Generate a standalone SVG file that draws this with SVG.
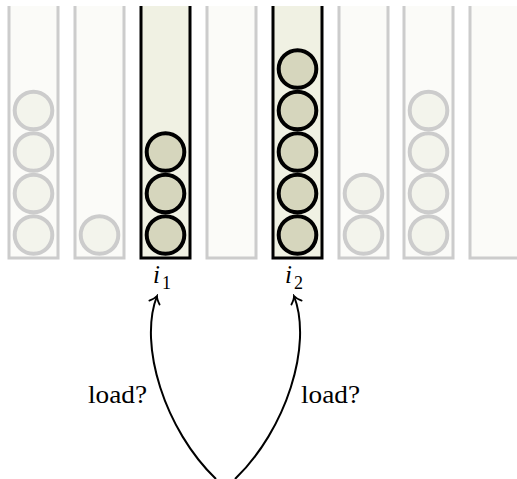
<svg xmlns="http://www.w3.org/2000/svg" width="517" height="479" viewBox="0 0 517 479">
<defs>
<style>
.bin{fill:#fbfbf8;stroke:#cccccc;stroke-width:3}
.binh{fill:#f0f1e3;stroke:#000;stroke-width:3}
.ball{fill:#f3f4ec;stroke:#cccccc;stroke-width:4}
.ballh{fill:#d6d6bd;stroke:#000;stroke-width:4}
.edge{fill:none;stroke:#000;stroke-width:2}
.lbl{font-family:"Liberation Serif",serif;font-size:25px;fill:#000}
.idx{font-family:"Liberation Serif",serif;font-style:italic;font-size:25px;fill:#000}
.sub{font-family:"Liberation Serif",serif;font-size:18px;fill:#000}
</style>
<marker id="arr" markerWidth="12" markerHeight="14" refX="10" refY="7" orient="auto" markerUnits="userSpaceOnUse">
<path d="M3,1.5 Q7,6 10,7 Q7,8 3,12.5" fill="none" stroke="#000" stroke-width="1.8" stroke-linecap="round"/>
</marker>
</defs>
<rect width="517" height="479" fill="#fff"/>
<g id="bin1">
<path class="bin" d="M9,6 V258 H58 V6"/>
<circle class="ball" cx="33.5" cy="235" r="18.8"/>
<circle class="ball" cx="33.5" cy="193.5" r="18.8"/>
<circle class="ball" cx="33.5" cy="152" r="18.8"/>
<circle class="ball" cx="33.5" cy="110.5" r="18.8"/>
</g>
<g id="bin2">
<path class="bin" d="M75,6 V258 H124 V6"/>
<circle class="ball" cx="99.5" cy="235" r="18.8"/>
</g>
<g id="bin3">
<path class="binh" d="M141,6 V258 H190 V6"/>
<circle class="ballh" cx="165.5" cy="235" r="18.8"/>
<circle class="ballh" cx="165.5" cy="193.5" r="18.8"/>
<circle class="ballh" cx="165.5" cy="152" r="18.8"/>
</g>
<g id="bin4">
<path class="bin" d="M207,6 V258 H256 V6"/>
</g>
<g id="bin5">
<path class="binh" d="M273,6 V258 H322 V6"/>
<circle class="ballh" cx="297.5" cy="235" r="18.8"/>
<circle class="ballh" cx="297.5" cy="193.5" r="18.8"/>
<circle class="ballh" cx="297.5" cy="152" r="18.8"/>
<circle class="ballh" cx="297.5" cy="110.5" r="18.8"/>
<circle class="ballh" cx="297.5" cy="69" r="18.8"/>
</g>
<g id="bin6">
<path class="bin" d="M339,6 V258 H388 V6"/>
<circle class="ball" cx="363.5" cy="235" r="18.8"/>
<circle class="ball" cx="363.5" cy="193.5" r="18.8"/>
</g>
<g id="bin7">
<path class="bin" d="M404,6 V258 H453 V6"/>
<circle class="ball" cx="428.5" cy="235" r="18.8"/>
<circle class="ball" cx="428.5" cy="193.5" r="18.8"/>
<circle class="ball" cx="428.5" cy="152" r="18.8"/>
<circle class="ball" cx="428.5" cy="110.5" r="18.8"/>
</g>
<g id="bin8">
<path class="bin" d="M470,6 V258 H519 V6"/>
</g>
<g id="label-i1"><text class="idx" x="153" y="283">i</text><text class="sub" x="162" y="289">1</text></g>
<g id="label-i2"><text class="idx" x="285" y="283">i</text><text class="sub" x="294" y="289">2</text></g>
<g id="connectors">
<path class="edge" marker-end="url(#arr)" d="M216,479 C165,430 138,345 157,296"/>
<path class="edge" marker-end="url(#arr)" d="M235,479 C286,430 313,345 294,296"/>
<text class="lbl" x="88" y="403" textLength="59" lengthAdjust="spacingAndGlyphs">load?</text>
<text class="lbl" x="301" y="403" textLength="59" lengthAdjust="spacingAndGlyphs">load?</text>
</g>
</svg>
